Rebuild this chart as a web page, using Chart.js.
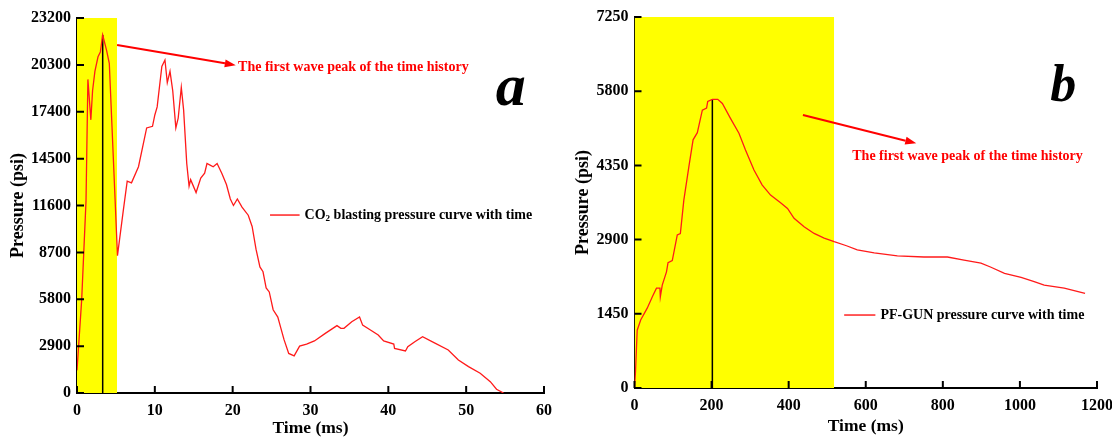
<!DOCTYPE html>
<html>
<head>
<meta charset="utf-8">
<script src="https://cdn.jsdelivr.net/npm/chart.js@4.4.1/dist/chart.umd.min.js"></script>
<style>
  html, body { margin: 0; padding: 0; background: #fff; }
  #wrap { position: relative; width: 1112px; height: 439px; }
  .panel { position: absolute; top: 0; width: 556px; height: 439px; }
</style>
</head>
<body>
<div id="wrap">
  <div class="panel" style="left:0"><canvas id="chartA" width="556" height="439"></canvas></div>
  <div class="panel" style="left:556px"><canvas id="chartB" width="556" height="439"></canvas></div>
</div>
<script>
// panel a: CO2 blasting
var timeA = [0, 0.6, 1.16, 1.4, 1.78, 2.0, 2.3, 2.7, 3.0, 3.3, 3.8, 4.15, 5.2, 5.95, 6.45, 7.0, 7.9, 8.95,
  9.7, 10.0, 10.3, 10.9, 11.3, 11.6, 11.95, 12.3, 12.7, 13.0, 13.4, 13.7, 14.1, 14.4, 14.6, 15.3, 15.9,
  16.4, 16.7, 17.1, 17.5, 18.0, 18.6, 19.2, 19.7, 20.1, 20.6, 21.2, 22.0, 22.5, 23.0, 23.5, 23.9, 24.3,
  24.7, 25.2, 25.8, 26.2, 26.6, 27.2, 27.9, 28.6, 29.5, 30.5, 31.9, 33.4, 33.9, 34.3, 35.3, 36.3, 36.7,
  37.7, 38.7, 39.4, 40.7, 40.8, 42.2, 42.5, 43.4, 44.4, 45.8, 47.7, 49.0, 50.3, 51.8, 53.1, 53.9, 54.8];
var pressureA = [1400, 5750, 11900, 19400, 16900, 18700, 19900, 20800, 21100, 22150, 21200, 20400, 8500,
  11300, 13100, 13000, 14000, 16400, 16500, 17200, 17700, 20200, 20600, 19200, 19900, 18700, 16400, 17000,
  18900, 17500, 14200, 12800, 13200, 12400, 13300, 13600, 14200, 14100, 14000, 14200, 13600, 12900, 12000,
  11600, 12000, 11500, 11000, 10300, 8900, 7800, 7500, 6500, 6250, 5150, 4700, 4000, 3300, 2450, 2300,
  2900, 3020, 3220, 3690, 4170, 4000, 4000, 4410, 4700, 4200, 3900, 3590, 3220, 3030, 2760, 2600, 2860,
  3170, 3480, 3130, 2660, 2040, 1630, 1220, 700, 230, 0];
var peakTimeA = 3.3, peakPressureA = 22150;
var bandEndA = 5.15, bandTopA = 23200;
var xTicksA = [0, 10, 20, 30, 40, 50, 60];
var yTicksA = [0, 2900, 5800, 8700, 11600, 14500, 17400, 20300, 23200];

// panel b: PF-GUN
var timeB = [0, 2.6, 7, 16, 33, 46, 57, 66, 67, 72, 83, 87, 98, 111, 119, 128, 141, 152, 163, 176, 187,
  190, 202, 216, 228, 249, 271, 288, 310, 331, 353, 379, 397, 414, 440, 466, 492, 518, 550, 578, 622, 682,
  751, 812, 855, 899, 925, 960, 1003, 1037, 1063, 1115, 1169];
var pressureB = [0, 320, 1130, 1330, 1560, 1780, 1950, 1950, 1780, 2010, 2270, 2450, 2490, 2990, 3020,
  3670, 4320, 4850, 4990, 5430, 5470, 5600, 5640, 5640, 5560, 5270, 4980, 4650, 4260, 3970, 3770, 3620,
  3510, 3315, 3150, 3020, 2930, 2860, 2780, 2700, 2640, 2580, 2560, 2560, 2500, 2440, 2360, 2240, 2160,
  2080, 2010, 1950, 1850];
var peakTimeB = 202, peakPressureB = 5640;
var bandEndB = 518, bandTopB = 7250;
var xTicksB = [0, 200, 400, 600, 800, 1000, 1200];
var yTicksB = [0, 1450, 2900, 4350, 5800, 7250];

var noteText = 'The first wave peak of the time history';
var legendA = ['CO', '2', ' blasting pressure curve with time'];
var legendB = ['PF-GUN pressure curve with time'];

var FONT = '"Liberation Serif", "Times New Roman", serif';

function pts(xs, ys) {
  return xs.map(function (x, i) { return { x: x, y: ys[i] }; });
}

// tick marks point into the plot area
var inwardTicks = {
  id: 'inwardTicks',
  afterDraw: function (chart) {
    var ctx = chart.ctx, xs = chart.scales.x, ys = chart.scales.y;
    ctx.save();
    ctx.strokeStyle = '#000';
    ctx.lineWidth = 2;
    ctx.beginPath();
    xs.ticks.forEach(function (t) {
      var px = xs.getPixelForValue(t.value);
      ctx.moveTo(px, ys.bottom);
      ctx.lineTo(px, ys.bottom - 7);
    });
    ys.ticks.forEach(function (t) {
      var py = ys.getPixelForValue(t.value);
      ctx.moveTo(xs.left, py);
      ctx.lineTo(xs.left + 7, py);
    });
    ctx.stroke();
    ctx.restore();
  }
};

// arrow, note, legend and panel letter
var notes = {
  id: 'notes',
  afterDraw: function (chart, args, o) {
    var ctx = chart.ctx, xs = chart.scales.x, ys = chart.scales.y;
    var x1 = xs.getPixelForValue(o.arrow[0]), y1 = ys.getPixelForValue(o.arrow[1]);
    var x2 = xs.getPixelForValue(o.arrow[2]), y2 = ys.getPixelForValue(o.arrow[3]);
    var ang = Math.atan2(y2 - y1, x2 - x1);
    var hx = x2 - 11 * Math.cos(ang), hy = y2 - 11 * Math.sin(ang);
    ctx.save();
    ctx.strokeStyle = '#ff0000';
    ctx.fillStyle = '#ff0000';
    ctx.lineWidth = 2;
    ctx.beginPath();
    ctx.moveTo(x1, y1);
    ctx.lineTo(hx, hy);
    ctx.stroke();
    ctx.beginPath();
    ctx.moveTo(x2, y2);
    ctx.lineTo(hx + 4 * Math.sin(ang), hy - 4 * Math.cos(ang));
    ctx.lineTo(hx - 4 * Math.sin(ang), hy + 4 * Math.cos(ang));
    ctx.closePath();
    ctx.fill();

    ctx.font = 'bold 14px ' + FONT;
    ctx.textBaseline = 'middle';
    ctx.textAlign = 'left';
    ctx.fillText(o.text, xs.getPixelForValue(o.textAt[0]), ys.getPixelForValue(o.textAt[1]));

    // legend
    var lx1 = xs.getPixelForValue(o.legendAt[0]), lx2 = xs.getPixelForValue(o.legendAt[1]);
    var ly = ys.getPixelForValue(o.legendAt[2]);
    ctx.lineWidth = 1.3;
    ctx.beginPath();
    ctx.moveTo(lx1, ly);
    ctx.lineTo(lx2, ly);
    ctx.stroke();
    ctx.fillStyle = '#000';
    var tx = lx2 + 5;
    o.legend.forEach(function (part, i) {
      if (o.legend.length > 1 && i === 1) {
        ctx.font = 'bold 9px ' + FONT;
        ctx.fillText(part, tx, ly + 4);
      } else {
        ctx.font = 'bold 14px ' + FONT;
        ctx.fillText(part, tx, ly);
      }
      tx += ctx.measureText(part).width;
    });

    // panel letter
    ctx.font = 'italic bold ' + o.letterSize + 'px ' + FONT;
    ctx.textBaseline = 'alphabetic';
    ctx.fillText(o.letter, xs.getPixelForValue(o.letterAt[0]), ys.getPixelForValue(o.letterAt[1]));
    ctx.restore();
  }
};

function plain(v) { return String(v); }

function makeChart(id, d) {
  return new Chart(document.getElementById(id), {
    type: 'line',
    data: {
      datasets: [
        { data: pts(d.time, d.pressure), borderColor: '#ff1a1a', borderWidth: 1.3, pointRadius: 0, tension: 0, fill: false },
        { data: pts([d.peakTime, d.peakTime], [0, d.peakPressure]), borderColor: '#000', borderWidth: 1.5, pointRadius: 0, fill: false },
        { data: pts([0, d.bandEnd], [d.bandTop, d.bandTop]), borderWidth: 0, pointRadius: 0, backgroundColor: '#ffff00', fill: 'origin' }
      ]
    },
    options: {
      responsive: false,
      animation: false,
      layout: { padding: d.padding },
      plugins: {
        legend: { display: false },
        tooltip: { enabled: false },
        notes: d.notes
      },
      scales: {
        x: {
          type: 'linear', min: d.xTicks[0], max: d.xTicks[d.xTicks.length - 1], z: 1,
          afterBuildTicks: function (s) { s.ticks = d.xTicks.map(function (v) { return { value: v }; }); },
          afterFit: function (s) { s.height = d.xHeight; s.paddingLeft = 0; s.paddingRight = 0; },
          grid: { display: true, drawOnChartArea: false, drawTicks: false },
          border: { display: true, color: '#000', width: 2 },
          ticks: { color: '#000', padding: 8, maxRotation: 0, callback: plain,
            font: { family: FONT, size: 16, weight: 'bold' } },
          title: { display: true, text: 'Time (ms)', color: '#000', padding: { top: 0, bottom: d.xTitlePad },
            font: { family: FONT, size: 17.5, weight: 'bold' } }
        },
        y: {
          min: d.yTicks[0], max: d.yTicks[d.yTicks.length - 1], z: 1,
          afterBuildTicks: function (s) { s.ticks = d.yTicks.map(function (v) { return { value: v }; }); },
          afterFit: function (s) { s.width = d.yWidth; s.paddingTop = 0; s.paddingBottom = 0; },
          grid: { display: true, drawOnChartArea: false, drawTicks: false },
          border: { display: true, color: '#000', width: 2 },
          ticks: { color: '#000', padding: 6, callback: plain,
            font: { family: FONT, size: 16, weight: 'bold' } },
          title: { display: true, text: 'Pressure (psi)', color: '#000', padding: { top: d.yTitlePad, bottom: 0 },
            font: { family: FONT, size: 18, weight: 'bold' } }
        }
      }
    },
    plugins: [inwardTicks, notes]
  });
}

makeChart('chartA', {
  time: timeA, pressure: pressureA, peakTime: peakTimeA, peakPressure: peakPressureA,
  bandEnd: bandEndA, bandTop: bandTopA, xTicks: xTicksA, yTicks: yTicksA,
  padding: { left: 0, right: 12, top: 18, bottom: 0 }, xHeight: 46, yWidth: 77,
  xTitlePad: 0, yTitlePad: 8,
  notes: {
    arrow: [5.15, 21530, 20.4, 20280], text: noteText, textAt: [20.7, 20170],
    legend: legendA, legendAt: [24.8, 28.6, 11010], letter: 'a', letterSize: 60, letterAt: [53.8, 17820]
  }
});

makeChart('chartB', {
  time: timeB, pressure: pressureB, peakTime: peakTimeB, peakPressure: peakPressureB,
  bandEnd: bandEndB, bandTop: bandTopB, xTicks: xTicksB, yTicks: yTicksB,
  padding: { left: 0, right: 15, top: 17, bottom: 0 }, xHeight: 51, yWidth: 78.5,
  xTitlePad: 2, yTitlePad: 17,
  notes: {
    arrow: [437, 5334, 731, 4781], text: noteText, textAt: [565, 4533],
    legend: legendB, legendAt: [544, 625, 1426], letter: 'b', letterSize: 52, letterAt: [1079, 5600]
  }
});
</script>
</body>
</html>
